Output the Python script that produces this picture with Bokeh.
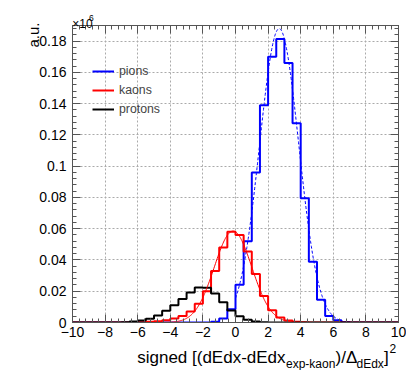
import numpy as np
from bokeh.plotting import figure
from bokeh.models import (Range1d, FixedTicker, LinearAxis, Label, Legend, LegendItem,
                          CustomLabelingPolicy)
from bokeh.embed import file_html
from bokeh.resources import INLINE

# ---------------- data ----------------
bin_low = -10.0
bin_width = 0.5
# 40 bins from -10 to 10
pions = [0, 0, 0, 0, 0, 0, 0, 0, 0, 0,
         0, 0, 0, 0, 0, 0, 0, 0.0005, 0.0025, 0.0085,
         0.0242, 0.0520, 0.0960, 0.1390, 0.1700, 0.1813, 0.1660, 0.1275, 0.0795, 0.0389,
         0.0145, 0.0041, 0.0015, 0.0003, 0, 0, 0, 0, 0, 0]
kaons = [0, 0, 0, 0, 0, 0, 0, 0, 0.0002, 0.0004,
         0.0008, 0.0015, 0.0025, 0.0042, 0.0070, 0.0120, 0.0200, 0.0330, 0.0480, 0.0580,
         0.0560, 0.0455, 0.0310, 0.0170, 0.0078, 0.0032, 0.0012, 0.0004, 0.0001, 0,
         0, 0, 0, 0, 0, 0, 0, 0, 0, 0]
protons = [0, 0, 0, 0, 0, 0, 0.0002, 0.0006, 0.0012, 0.0024,
           0.0045, 0.0075, 0.0110, 0.0150, 0.0192, 0.0224, 0.0222, 0.0186, 0.0130, 0.0076,
           0.0040, 0.0018, 0.0007, 0.0002, 0, 0, 0, 0, 0, 0,
           0, 0, 0, 0, 0, 0, 0, 0, 0, 0]

# Gaussian fit parameters (amplitude, mean, sigma, fit range)
pion_fit = dict(amp=0.188, mean=2.68, sigma=1.2, lo=0.0, hi=6.5)
kaon_fit = dict(amp=0.0585, mean=-0.15, sigma=1.15, lo=-6.0, hi=4.5)

x_ticks = [-10, -8, -6, -4, -2, 0, 2, 4, 6, 8, 10]
x_tick_labels = ["\u221210", "\u22128", "\u22126", "\u22124", "\u22122", "0", "2", "4", "6", "8", "10"]
y_ticks = [0, 0.02, 0.04, 0.06, 0.08, 0.1, 0.12, 0.14, 0.16, 0.18]
y_tick_labels = ["0", "0.02", "0.04", "0.06", "0.08", "0.1", "0.12", "0.14", "0.16", "0.18"]
series_names = ["pions", "kaons", "protons"]
series_colors = ["#0000ff", "#ff0000", "#000000"]

X0, X1, Y0, Y1 = -10, 10, 0, 0.19

# ---------------- figure ----------------
FONT = "Liberation Sans"
AX = "#555555"
p = figure(frame_width=326, frame_height=297, x_range=Range1d(X0, X1), y_range=Range1d(Y0, Y1),
           output_backend="svg", toolbar_location=None,
           min_border_left=72, min_border_right=8, min_border_top=25, min_border_bottom=0)
p.outline_line_color = AX
p.background_fill_color = "white"
p.border_fill_color = "white"

x_minor = [round(v, 3) for v in np.arange(-10, 10.001, 0.4)]
y_minor = [round(v, 4) for v in np.arange(0, 0.19001, 0.004)]
xt = FixedTicker(ticks=x_ticks, minor_ticks=x_minor)
yt = FixedTicker(ticks=y_ticks, minor_ticks=y_minor)


def style_axis(ax, ticker, labels_shown):
    ax.ticker = ticker
    ax.axis_line_color = AX
    ax.major_tick_line_color = AX
    ax.minor_tick_line_color = AX
    ax.major_tick_in = 8
    ax.major_tick_out = 0
    ax.minor_tick_in = 4
    ax.minor_tick_out = 0
    ax.axis_label = None
    if labels_shown:
        ax.major_label_text_font = FONT
        ax.major_label_text_font_size = "14px"
        ax.major_label_text_color = "black"
    else:
        ax.major_label_text_font_size = "0px"
        ax.major_label_standoff = 0
        ax.major_label_policy = CustomLabelingPolicy(code="return []")


style_axis(p.xaxis[0], xt, True)
p.xaxis[0].major_label_overrides = {t: l for t, l in zip(x_ticks, x_tick_labels)}
p.xaxis[0].major_label_standoff = 4
style_axis(p.yaxis[0], yt, True)
p.yaxis[0].major_label_overrides = {t: l for t, l in zip(y_ticks, y_tick_labels)}
p.yaxis[0].major_label_standoff = 6

top = LinearAxis()
style_axis(top, xt, False)
p.add_layout(top, "above")
right = LinearAxis()
style_axis(right, yt, False)
p.add_layout(right, "right")

for g in (p.xgrid[0], p.ygrid[0]):
    g.grid_line_color = "#aaaaaa"
    g.grid_line_dash = "2 2"
    g.grid_line_width = 1

edges = [bin_low + bin_width * i for i in range(len(pions) + 1)]
renderers = []
for vals, col in zip([pions, kaons, protons], series_colors):
    r = p.step(edges, list(vals) + [vals[-1]], mode="after", line_color=col, line_width=2)
    renderers.append(r)


def gauss_curve(f):
    xs = np.linspace(f["lo"], f["hi"], 300)
    ys = f["amp"] * np.exp(-0.5 * ((xs - f["mean"]) / f["sigma"]) ** 2)
    return xs, ys


xs, ys = gauss_curve(pion_fit)
p.line(xs, ys, line_color="#0000ff", line_width=1, line_dash="3 2")
xs, ys = gauss_curve(kaon_fit)
p.line(xs, ys, line_color="#ff0000", line_width=1)

legend = Legend(items=[LegendItem(label=n, renderers=[r]) for n, r in zip(series_names, renderers)],
                location=(20, 203.7), glyph_width=22, glyph_height=18, label_height=18,
                label_standoff=5, spacing=1, padding=0, margin=0,
                border_line_alpha=0, background_fill_alpha=0,
                label_text_font=FONT, label_text_font_size="12.3px")
p.add_layout(legend)

# ---------------- texts outside the frame (page px -> data coords) ----
# placed in the (freely growing) bottom panel so they are not clipped by the frame
FL, FR, FT, FB = 72.0, 398.0, 25.0, 322.0


def add_text(text, px, py, size, angle=0.0, align="left"):
    xd = X0 + (px - FL) / (FR - FL) * (X1 - X0)
    yd = Y0 + (FB - py) / (FB - FT) * (Y1 - Y0)
    p.add_layout(Label(x=xd, y=yd, text=text,
                       text_font=FONT, text_font_size=size, text_color="black",
                       text_baseline="alphabetic", text_align=align, angle=angle), "below")


add_text("signed [(dEdx-dEdx", 136.7, 357.3, "17px")
add_text("exp-kaon", 285.5, 363.0, "12px")
add_text(")/\u0394", 335.0, 357.3, "17px")
add_text("dEdx", 356.0, 363.0, "12px")
add_text("]", 383.5, 357.3, "17px")
add_text("2", 389.0, 348.0, "12px")
add_text("a.u.", 33.0, 22.0, "15px", angle=np.pi / 2, align="right")
add_text("\u00d710", 71.7, 23.3, "12px")
add_text("6", 88.5, 17.5, "8.5px")

open("out.html", "w").write(file_html(p, INLINE))
